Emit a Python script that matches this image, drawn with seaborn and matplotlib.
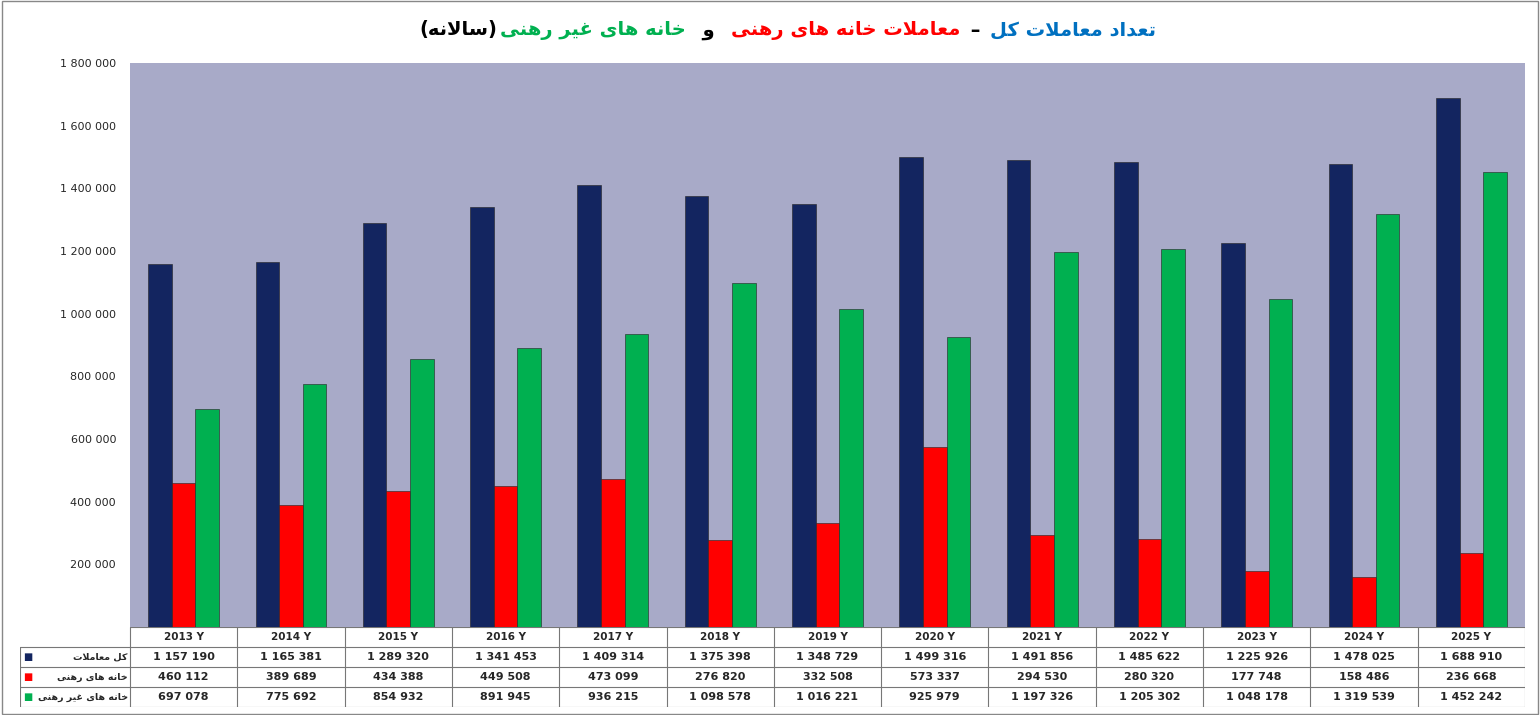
import matplotlib
matplotlib.use("Agg")
import matplotlib.pyplot as plt
import seaborn as sns
import pandas as pd
from matplotlib.ticker import FuncFormatter

years = ["2013 Y","2014 Y","2015 Y","2016 Y","2017 Y","2018 Y","2019 Y","2020 Y","2021 Y","2022 Y","2023 Y","2024 Y","2025 Y"]
total = [1157190,1165381,1289320,1341453,1409314,1375398,1348729,1499316,1491856,1485622,1225926,1478025,1688910]
mortgaged = [460112,389689,434388,449508,473099,276820,332508,573337,294530,280320,177748,158486,236668]
non_mortgaged = [697078,775692,854932,891945,936215,1098578,1016221,925979,1197326,1205302,1048178,1319539,1452242]
series_names = ["کل معاملات", "خانه های رهنی", "خانه های غیر رهنی"]
colors = ["#132560", "#ff0000", "#00b050"]

# minimal Persian shaping (isolated, final, initial, medial)
FORMS = {
 'ا':(0xFE8D,0xFE8E,None,None),'د':(0xFEA9,0xFEAA,None,None),'ر':(0xFEAD,0xFEAE,None,None),
 'و':(0xFEED,0xFEEE,None,None),'ت':(0xFE95,0xFE96,0xFE97,0xFE98),'ع':(0xFEC9,0xFECA,0xFECB,0xFECC),
 'غ':(0xFECD,0xFECE,0xFECF,0xFED0),'م':(0xFEE1,0xFEE2,0xFEE3,0xFEE4),'ل':(0xFEDD,0xFEDE,0xFEDF,0xFEE0),
 'ن':(0xFEE5,0xFEE6,0xFEE7,0xFEE8),'ه':(0xFEE9,0xFEEA,0xFEEB,0xFEEC),'خ':(0xFEA5,0xFEA6,0xFEA7,0xFEA8),
 'ح':(0xFEA1,0xFEA2,0xFEA3,0xFEA4),'س':(0xFEB1,0xFEB2,0xFEB3,0xFEB4),'ک':(0xFB8E,0xFB8F,0xFB90,0xFB91),
 'ی':(0xFBFC,0xFBFD,0xFBFE,0xFBFF),'LA':(0xFEFB,0xFEFC,None,None)}
MIRROR = {'(':')', ')':'('}

def shape(s):
    chars = []
    i = 0
    while i < len(s):
        if s[i] == 'ل' and i+1 < len(s) and s[i+1] == 'ا':
            chars.append('LA'); i += 2
        else:
            chars.append(s[i]); i += 1
    def joins_left(c):
        return c in FORMS and FORMS[c][2] is not None
    out = []
    for k, c in enumerate(chars):
        if c not in FORMS:
            out.append(MIRROR.get(c, c)); continue
        prev = chars[k-1] if k > 0 else None
        nxt = chars[k+1] if k+1 < len(chars) else None
        pj = prev is not None and joins_left(prev)
        nj = nxt is not None and nxt in FORMS and joins_left(c)
        f = FORMS[c]
        if pj and nj: code = f[3]
        elif pj: code = f[1]
        elif nj: code = f[2]
        else: code = f[0]
        out.append(chr(code))
    return ''.join(out[::-1])

df = pd.DataFrame({
    "year": years * 3,
    "value": total + mortgaged + non_mortgaged,
    "series": [series_names[0]]*13 + [series_names[1]]*13 + [series_names[2]]*13,
})

sns.set_theme(style="white")
plt.rcParams['font.family'] = ['DejaVu Sans']
fig = plt.figure(figsize=(15.4, 7.15), dpi=100)
ax = fig.add_axes([130/1540, 1-627/715, 1395/1540, 564/715])
ax.set_facecolor("#a8aac8")
sns.barplot(data=df, x="year", y="value", hue="series", palette=colors, width=0.66, gap=0,
            saturation=1, edgecolor="#222222", linewidth=0.4, legend=False, ax=ax)
ax.set_xlim(-0.5, 12.5)
ax.set_ylim(0, 1800000)
ax.set_yticks(range(200000, 1800001, 200000))
ax.yaxis.set_major_formatter(FuncFormatter(lambda v, p: f"{int(v):,}".replace(",", " ")))
ax.tick_params(axis='y', labelsize=8, length=0, pad=10)
ax.set_xticks([]); ax.set_xlabel(""); ax.set_ylabel("")
for s in ax.spines.values():
    s.set_visible(False)

# table
tab = fig.add_axes([20/1540, 1-707/715, 1505/1540, 80/715])
tab.set_xlim(-1.525, 12.5); tab.set_ylim(4, 0)
tab.axis('off')
for r in range(5):
    x0 = -0.5 if r == 0 else -1.525
    tab.plot([x0, 12.5], [r, r], color="#777777", lw=0.8)
for c in range(14):
    tab.plot([c-0.5, c-0.5], [0, 4], color="#777777", lw=0.8)
tab.plot([-1.525, -1.525], [1, 4], color="#777777", lw=0.8)
for i, y in enumerate(years):
    tab.text(i, 0.5, y, ha='center', va='center', fontsize=7.5, fontweight='bold')
rows = [total, mortgaged, non_mortgaged]
for r, vals in enumerate(rows):
    for i, v in enumerate(vals):
        tab.text(i, r+1.5, f"{v:,}".replace(",", " "), ha='center', va='center', fontsize=8, fontweight='bold')
    tab.text(-1.50, r+1.5, "■", color=colors[r], ha='left', va='center', fontsize=7)
    tab.text(-0.52, r+1.5, shape(series_names[r]), ha='right', va='center', fontsize=6.8, fontweight='bold')

# title pieces, visual left to right
pieces = [("(سالانه)", "black"), ("خانه های غیر رهنی", "#00b050"), ("  و  ", "black"),
          ("معاملات خانه های رهنی", "#ff0000"), (" – ", "black"), ("تعداد معاملات کل", "#0070c0")]
fig.canvas.draw()
r = fig.canvas.get_renderer()
texts = []
for s, col in pieces:
    t = fig.text(0, 1-30/715, shape(s) if s.strip() != "–" else s, color=col,
                 fontsize=14, fontweight='bold', va='center', ha='left')
    texts.append(t)
widths = [t.get_window_extent(r).width for t in texts]
x = (1540 - sum(widths)) / 2 + 10
for t, w in zip(texts, widths):
    t.set_x(x / 1540); x += w + 3

fig.patches.append(plt.Rectangle((0.001, 0.001), 0.998, 0.998, transform=fig.transFigure,
                                 fill=False, edgecolor="#888888", lw=1))
fig.savefig("out.png", dpi=100)
